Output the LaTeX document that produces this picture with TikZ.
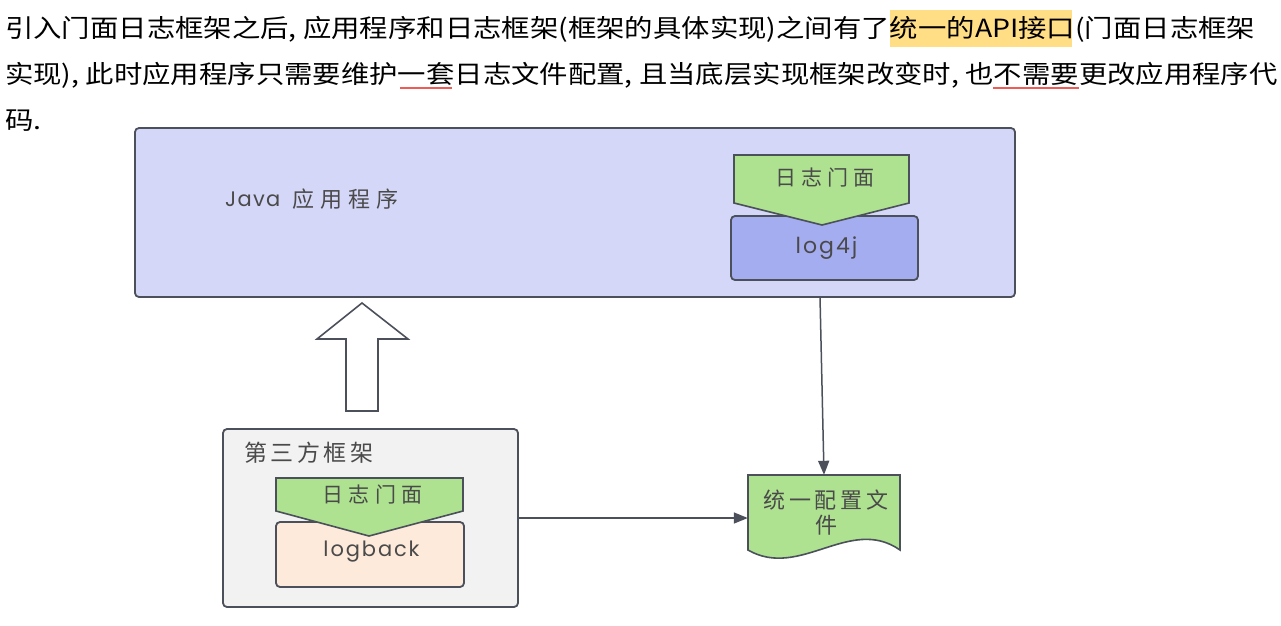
\documentclass[tikz,border=0pt]{standalone}
\usepackage{fontspec}
\usetikzlibrary{arrows.meta}
\newfontfamily\topf{Noto Sans CJK SC}
\newfontfamily\cjkd{Noto Sans CJK SC}
\newfontfamily\latd{Poppins}
\newsavebox\lineboxa
\newsavebox\lineboxb
\newsavebox\lineboxc
\definecolor{edge}{HTML}{4B505B}
\definecolor{appfill}{HTML}{D5D7F8}
\definecolor{logfourfill}{HTML}{A5ADF1}
\definecolor{greenfill}{HTML}{AEE290}
\definecolor{thirdfill}{HTML}{F2F2F2}
\definecolor{logbackfill}{HTML}{FDEADB}
\definecolor{dtextc}{HTML}{4A4A4A}
\definecolor{toptext}{HTML}{333333}
\definecolor{hilite}{HTML}{FFDE85}
\definecolor{ulred}{HTML}{EF5B55}
\newcommand\spaced[3]{{\fontsize{#1}{#1}\selectfont\addfontfeature{LetterSpace=#2}#3}}
\begin{document}
\sbox\lineboxa{\topf\fontsize{25}{25}\selectfont 引入门面日志框架之后, 应用程序和日志框架(框架的具体实现)之间有了统一的API接口(门面日志框架}%
\sbox\lineboxb{\topf\fontsize{25}{25}\selectfont 实现), 此时应用程序只需要维护一套日志文件配置, 且当底层实现框架改变时, 也不需要更改应用程序代}%
\sbox\lineboxc{\topf\fontsize{25}{25}\selectfont 码.}%
\pgfmathsetmacro\fitx{1250/\the\wd\lineboxa}%
\begin{tikzpicture}[x=1pt,y=-1pt,
  boxstyle/.style={draw=edge, line width=1.8pt, rounded corners=4pt, inner sep=0pt},
  pentstyle/.style={draw=edge, fill=greenfill, line width=1.6pt, line join=miter},
  dlabel/.style={text=dtextc, inner sep=0pt},
  conn/.style={draw=edge, line width=1.5pt, -{Triangle[length=14pt,width=11pt]}}]
\useasboundingbox (0,0) rectangle (1281,625);
\fill[white] (0,0) rectangle (1281,625);
% --- top paragraph ---
\fill[hilite] (890,10) rectangle (1072,47);
\draw[ulred, line width=2pt] (400,88) -- (452,88);
\draw[ulred, line width=2pt] (993,88) -- (1079,88);
\node[anchor=base west, inner sep=0pt, text=toptext] (lineone) at (5,37) {\scalebox{\fitx}[1]{\usebox\lineboxa}};
\node[anchor=base west, inner sep=0pt, text=toptext] (linetwo) at (5,83) {\scalebox{\fitx}[1]{\usebox\lineboxb}};
\node[anchor=base west, inner sep=0pt, text=toptext] (linethree) at (5,129) {\scalebox{\fitx}[1]{\usebox\lineboxc}};
% --- Java application box ---
\node[boxstyle, fill=appfill, minimum width=880pt, minimum height=169pt] (app) at (575,212.5) {};
\node[dlabel, anchor=west] (applabel) at (225,199) {\latd\spaced{21}{6}{Java}};
\node[dlabel, anchor=west] (appcjk) at (292,199) {\cjkd\spaced{22}{27}{应用程序}};
\node[boxstyle, fill=logfourfill, minimum width=187pt, minimum height=64pt] (logfour) at (824.5,248) {};
\draw[pentstyle] (734,155) -- (909,155) -- (909,203) -- (822,225) -- (734,203) -- cycle;
\node[dlabel] (facadeone) at (825,178) {\cjkd\spaced{21}{24}{日志门面}};
\node[dlabel] (logfourlabel) at (826.5,248) {\latd\spaced{22}{9}{log4j}};
% --- hollow up arrow ---
\draw[draw=edge, fill=white, line width=1.6pt, line join=miter] (346,411) -- (346,339) -- (317,339) -- (362,303) -- (408,339) -- (378,339) -- (378,411) -- cycle;
% --- third party box ---
\node[boxstyle, fill=thirdfill, minimum width=295pt, minimum height=178pt] (third) at (370.5,518) {};
\node[dlabel, anchor=west] (thirdlabel) at (244,453) {\cjkd\spaced{23}{15}{第三方框架}};
\node[boxstyle, fill=logbackfill, minimum width=188pt, minimum height=65pt] (logback) at (370,554.5) {};
\draw[pentstyle] (276,478) -- (463,478) -- (463,511) -- (369,536) -- (276,511) -- cycle;
\node[dlabel] (facadetwo) at (372.5,494.5) {\cjkd\spaced{21}{24}{日志门面}};
\node[dlabel] (logbacklabel) at (371.5,552) {\latd\spaced{21}{9}{logback}};
% --- config document ---
\draw[draw=edge, fill=greenfill, line width=1.6pt, line join=miter] (748,475) -- (900,475) -- (900,550) .. controls (850,515) and (800,580) .. (748,550) -- cycle;
\node[inner sep=0pt, minimum width=152pt, minimum height=75pt] (doc) at (824,512.5) {};
\node[dlabel, align=center, font={\cjkd\fontsize{22}{25}\selectfont\addfontfeature{LetterSpace=18}}] (doclabel) at (826,513) {统一配置文\\件};
% --- connectors ---
\coordinate (fromapp) at (820,297);
\draw[conn] (fromapp) -- (doc.north);
\draw[conn] (third.east) -- (third.east -| doc.west);
\end{tikzpicture}
\end{document}
